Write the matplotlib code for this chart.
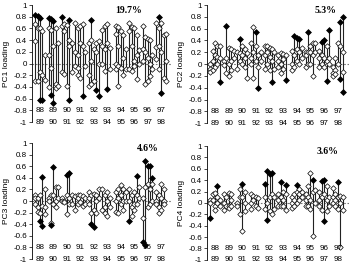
import matplotlib
matplotlib.use("Agg")
import matplotlib.pyplot as plt

years_top = ["88", "89", "90", "91", "92", "93", "94", "95", "96", "97"]
years_bot = ["89", "90", "91", "92", "93", "94", "95", "96", "97", "98"]
panel_labels = ["PC1 loading", "PC2 loading", "PC3 loading", "PC4 loading"]
variance = ["19.7%", "5.3%", "4.6%", "3.6%"]

# open (white) diamonds per group -> columns
pc1_open = [
    [[0.68, 0.38, -0.3], [0.6, -0.3], [0.6, -0.15], [0.55, -0.2], [0.14, -0.28]],
    [[0.6, 0.15, -0.4], [0.58, -0.08], [0.3], [0.6, -0.35, -0.42], [0.35, -0.38]],
    [[0.65, -0.15], [0.68, 0.55, -0.18], [0.66, -0.38], [0.4, 0.3], [0.35, -0.15]],
    [[0.7, 0.2, -0.05], [0.6, 0.15, -0.08, -0.2], [0.65, 0.35, -0.25], [0.67, 0.3], [0.2, -0.05]],
    [[0.35, -0.2, -0.38], [0.4, 0.05, -0.35], [0.25, -0.3], [0.35, 0.2], [0.38, 0.0]],
    [[0.57, 0.3, 0.0], [0.65, 0.25, -0.12], [0.68, 0.35], [0.27, -0.1], []],
    [[0.65, 0.5, 0.0, -0.1], [0.62, 0.3, -0.05, -0.38], [0.55, -0.08], [0.48, 0.1, -0.2], [0.25, -0.1]],
    [[0.7, 0.55, -0.1], [0.63, 0.3, -0.12], [0.6, 0.05, -0.05], [0.48, 0.15, -0.27], [0.23, 0.0]],
    [[0.65, 0.25, 0.05], [0.45, 0.2, -0.35], [0.42, 0.1, -0.3], [0.4, 0.0, -0.22], [0.15, -0.1]],
    [[0.7, 0.28, 0.08], [0.6, 0.3, -0.1], [0.7, 0.2], [0.48, -0.25], [0.5, 0.05, -0.3]],
]
pc1_filled = [
    [[0.83], [0.82], [0.78, -0.63], [-0.62], []],
    [[0.78], [0.77, -0.53], [0.73, -0.68], [], []],
    [[0.8], [], [], [0.75, -0.62], []],
    [[], [], [], [-0.55], []],
    [[], [0.75], [], [-0.45], [-0.56]],
    [[], [], [-0.43], [], []],
    [[], [], [], [], []],
    [[], [], [], [], []],
    [[], [], [], [], []],
    [[], [0.8], [-0.5], [], []],
]

pc2_open = [
    [[0.0, -0.08, -0.13], [0.22, 0.05, -0.1], [0.35, 0.15, -0.05], [0.3, 0.12, 0.0], [0.3, 0.1]],
    [[0.05, -0.02], [0.1, -0.15], [0.28, 0.0, -0.2], [0.25, 0.05, -0.1], [0.22, 0.1]],
    [[0.2, -0.08], [0.18, 0.05], [0.3, 0.15, 0.0], [0.25, 0.1, -0.05], [0.18, -0.23]],
    [[0.35, 0.1, 0.0], [0.63, 0.2, -0.23], [0.3, 0.05], [0.15, -0.05], [0.2, 0.05]],
    [[0.3, 0.15, -0.08], [0.3, 0.2, 0.0], [0.28, 0.12, -0.1], [0.25, 0.05], [0.2, -0.08]],
    [[0.15, 0.05, -0.05], [0.18, 0.0, -0.15], [0.17, 0.08, -0.08], [0.15], []],
    [[0.22, 0.0, -0.1], [0.15, -0.05], [0.25, 0.05], [0.2, 0.0], [0.28, 0.1]],
    [[0.2, 0.15, -0.05], [0.2, 0.0], [0.3, 0.2, 0.0], [0.35, 0.15, -0.2], [0.35, 0.2]],
    [[0.22, 0.1, -0.05], [0.15, 0.0], [0.1, -0.05], [0.3, 0.05], [0.1, 0.0]],
    [[-0.05, -0.15, -0.2], [0.1, -0.1, -0.17], [0.35, 0.0], [0.3], [0.2, -0.13]],
]
pc2_filled = [
    [[], [], [], [], [-0.3]],
    [[], [0.65], [], [], []],
    [[], [0.42], [], [], []],
    [[], [], [0.55], [-0.4], []],
    [[], [], [], [-0.3], []],
    [[], [], [], [-0.27], []],
    [[], [0.47], [0.45], [0.43], []],
    [[], [0.55], [], [], []],
    [[], [0.38], [0.4], [-0.28], [0.58]],
    [[], [], [], [0.72, -0.25], [0.8, -0.48]],
]

pc3_open = [
    [[0.1, 0.05, -0.05], [0.05, -0.1, -0.18], [0.1, -0.2], [-0.08], [0.2, -0.1, -0.22]],
    [[0.05, 0.0], [0.1, -0.38], [0.1, -0.05], [0.25, 0.0, -0.1], [0.25, 0.05]],
    [[0.05, 0.0], [0.0, -0.02], [0.1, -0.23], [0.05, -0.05], [0.1, -0.05]],
    [[0.08, -0.15], [0.1, 0.05, -0.05], [0.1, -0.02], [0.08, -0.08], [0.05, -0.05]],
    [[0.15, 0.05, -0.05], [0.1, -0.2], [0.12, -0.15], [0.1, 0.0, -0.2], [0.2, 0.05]],
    [[0.2, -0.15], [0.1, -0.1, -0.2], [0.15, 0.0, -0.25], [0.05, -0.1], []],
    [[0.15, 0.0, -0.18], [0.2, 0.05, -0.2], [0.28, 0.1, -0.05], [0.2, 0.0, -0.15], [0.15, 0.0]],
    [[0.2, 0.0], [0.1, -0.1, -0.25], [0.15, -0.05, -0.15], [0.1, -0.05], [0.25, 0.05]],
    [[0.05, -0.3], [0.25], [0.3, -0.1], [0.2, -0.05], [0.3, 0.0]],
    [[0.15, 0.0, -0.05], [0.1, -0.1, -0.2], [0.3, 0.05, -0.15], [0.2, 0.0, -0.05], []],
]
pc3_filled = [
    [[], [], [-0.35], [0.42, -0.43], []],
    [[], [-0.42], [0.58], [], []],
    [[], [], [0.45], [0.48], []],
    [[], [], [], [], []],
    [[], [-0.4], [-0.45], [], []],
    [[], [], [], [], []],
    [[], [], [], [], []],
    [[-0.35], [], [], [0.43], []],
    [[-0.7], [0.7, -0.75], [0.6], [0.6], [0.4]],
    [[], [], [], [], []],
]

pc4_open = [
    [[0.05, 0.0], [0.15, 0.05], [0.18, -0.05, -0.12], [0.1, 0.0], [0.05, -0.05]],
    [[0.15, 0.0, -0.12], [0.1, -0.05], [0.18, -0.05, -0.08], [0.15, 0.05, -0.05], []],
    [[0.0, -0.05], [0.25, 0.1, -0.2], [0.1, -0.5], [0.2, 0.0, -0.15], []],
    [[0.15, 0.0, -0.1], [0.12, 0.05], [0.1, -0.05], [0.08, -0.08], []],
    [[0.1, -0.1], [0.0], [0.1, -0.15], [0.15, -0.2], [0.1, -0.1]],
    [[0.15, 0.05, -0.05], [0.1, -0.05], [0.2, 0.05, -0.05], [0.15, -0.13], []],
    [[0.1, 0.0, -0.08], [0.15, 0.05, -0.05], [0.2, 0.0], [0.25, 0.15, 0.05], [0.2, 0.1]],
    [[0.15, 0.05, -0.05], [0.3, 0.1, -0.05], [0.53, 0.05, -0.1], [0.2, -0.58], [0.22, 0.0]],
    [[0.2, 0.05, -0.05], [0.1, -0.12], [0.15], [0.3, 0.05, -0.15], [0.1, -0.05]],
    [[0.27, 0.1, 0.0], [0.15, 0.05, -0.05], [0.1, -0.1], [0.12, 0.0, -0.78], [0.1, -0.12]],
]
pc4_filled = [
    [[-0.27], [], [], [0.3], []],
    [[], [], [], [], []],
    [[], [], [0.33], [], []],
    [[], [], [], [], []],
    [[0.33], [0.57, -0.3], [0.5], [0.52], []],
    [[], [0.37], [], [0.32], []],
    [[], [], [0.32], [], []],
    [[], [], [], [0.4], []],
    [[], [0.38], [0.4, -0.32], [], []],
    [[], [], [0.37], [], []],
]

panels_open = [pc1_open, pc2_open, pc3_open, pc4_open]
panels_filled = [pc1_filled, pc2_filled, pc3_filled, pc4_filled]

plt.rcParams['font.family'] = ['Liberation Sans', 'DejaVu Sans']

fig = plt.figure(figsize=(3.5, 2.66), dpi=100)
boxes = [
    [0.091, 0.541, 0.40, 0.440],
    [0.591, 0.537, 0.405, 0.444],
    [0.091, 0.026, 0.40, 0.436],
    [0.591, 0.023, 0.405, 0.428],
]
pct_x = [0.69, 0.84, 0.83, 0.85]
offsets = [-0.36, -0.18, 0.0, 0.18, 0.36]

for k in range(4):
    ax = fig.add_axes(boxes[k])
    ax.set_xlim(0.4, 10.8)
    ax.set_ylim(-1, 1)
    ax.axhline(0, color='#777777', lw=0.8, ls=(0, (1.5, 1.5)), zorder=1)
    opn = panels_open[k]
    fil = panels_filled[k]
    for g in range(10):
        for c in range(5):
            vo = opn[g][c]
            vf = fil[g][c]
            allv = vo + vf
            if not allv:
                continue
            x = g + 1 + offsets[c]
            ax.plot([x, x], [min(allv), max(allv)], color='#222222', lw=0.8, zorder=2)
            if vo:
                ax.plot([x] * len(vo), vo, ls='none', marker='D', ms=2.8,
                        mfc='white', mec='black', mew=0.5, zorder=3)
            if vf:
                ax.plot([x] * len(vf), vf, ls='none', marker='D', ms=3.0,
                        mfc='black', mec='black', mew=0.5, zorder=4)
    for g in range(10):
        ax.text(g + 1, -0.8, years_top[g], ha='center', va='center', fontsize=5.8)
        ax.text(g + 1, -1.0, years_bot[g], ha='center', va='center', fontsize=5.8)
    for s in ['top', 'right', 'bottom']:
        ax.spines[s].set_visible(False)
    ax.spines['left'].set_linewidth(0.6)
    ax.set_xticks([])
    yt = [-1, -0.8, -0.6, -0.4, -0.2, 0, 0.2, 0.4, 0.6, 0.8, 1]
    ax.set_yticks(yt)
    ax.set_yticklabels(['-1', '-0.8', '-0.6', '-0.4', '-0.2', '0', '0.2', '0.4', '0.6', '0.8', '1'])
    ax.tick_params(axis='y', labelsize=5.8, length=2, width=0.5, pad=1.5)
    ax.set_ylabel(panel_labels[k], fontsize=6, labelpad=2)
    ax.text(pct_x[k], 0.99, variance[k], transform=ax.transAxes, ha='center', va='top',
            fontsize=7, fontweight='bold', family='Liberation Serif')
    ax.patch.set_alpha(0)

fig.savefig("out.png", dpi=100)
